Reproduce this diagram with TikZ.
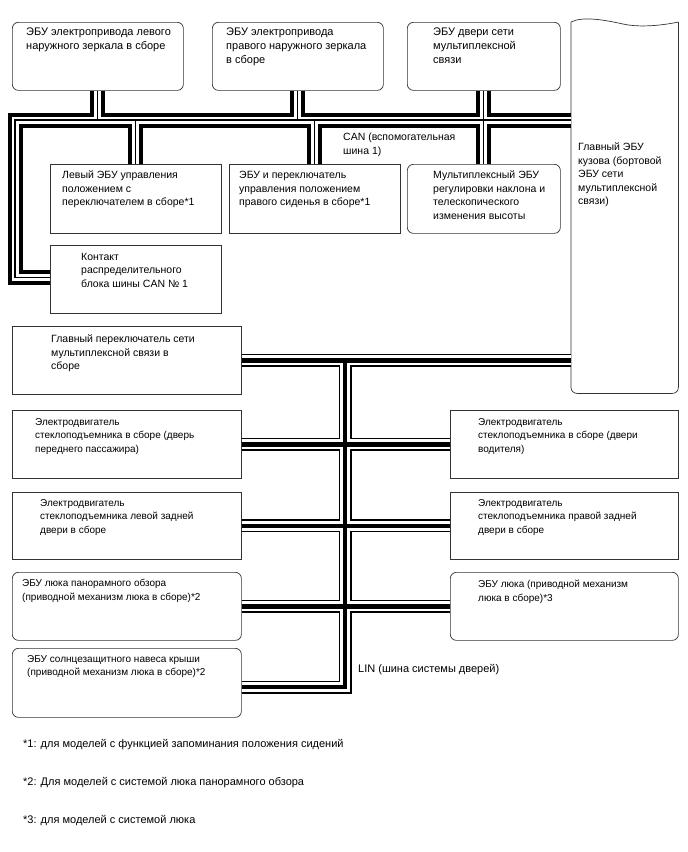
\documentclass[tikz,border=0pt]{standalone}
\usepackage{fontspec}
\setmainfont{Liberation Sans}
\usetikzlibrary{positioning,calc}

\tikzset{
  unit/.style={draw=black!80, line width=0.7pt, anchor=north west, inner sep=0pt},
  roundunit/.style={unit, rounded corners=6pt},
  txt/.style={anchor=north west, align=left, inner sep=0pt,
    font=\fontsize{10.5}{13.5}\selectfont},
  bigtxt/.style={txt, font=\fontsize{11}{14}\selectfont},
  smalltxt/.style={txt, font=\fontsize{10}{13.5}\selectfont}
}

\begin{document}
\begin{tikzpicture}[x=1pt,y=-1pt]
\useasboundingbox (0,0) rectangle (688,852);

% ================= TOP ROW =================
\node[roundunit, minimum width=171pt, minimum height=68pt] (lmirror) at (12,22) {};
\node[bigtxt] (lmirror-t) at (26,28) {ЭБУ электропривода левого\\наружного зеркала в сборе};

\node[roundunit, minimum width=171pt, minimum height=68pt] (rmirror) at (212,22) {};
\node[bigtxt] (rmirror-t) at (226,28) {ЭБУ электропривода\\правого наружного зеркала\\в сборе};

\node[roundunit, minimum width=153pt, minimum height=68pt] (doorecu) at (407,22) {};
\node[bigtxt] (doorecu-t) at (433,28) {ЭБУ двери сети\\мультиплексной\\связи};

% ================= MAIN BODY ECU =================
\node[anchor=north west, inner sep=0pt, minimum width=107pt, minimum height=371pt] (bodyecu) at (571,22) {};
\draw[black!80, line width=0.7pt, rounded corners=6pt]
  (bodyecu.north west) -- (bodyecu.south west) -- (bodyecu.south east) -- (bodyecu.north east);
\draw[black!80, line width=0.7pt]
  (bodyecu.north west) .. controls +(12,-6) and +(-18,-4) .. ($(bodyecu.north west)+(52,2)$)
  .. controls +(18,4) and +(-14,3) .. (bodyecu.north east);
\node[txt] (bodyecu-t) at (578,143) {Главный ЭБУ\\кузова (бортовой\\ЭБУ сети\\мультиплексной\\связи)};

% ================= SECOND ROW =================
\node[unit, minimum width=171pt, minimum height=69pt] (lseat) at (50,164) {};
\node[txt] (lseat-t) at (62,171) {Левый ЭБУ управления\\положением с\\переключателем в сборе*1};

\node[unit, minimum width=171pt, minimum height=69pt] (rseat) at (229,164) {};
\node[txt] (rseat-t) at (239,171) {ЭБУ и переключатель\\управления положением\\правого сиденья в сборе*1};

\node[roundunit, minimum width=153pt, minimum height=69pt] (tiltecu) at (407,164) {};
\node[txt] (tiltecu-t) at (433,171) {Мультиплексный ЭБУ\\регулировки наклона и\\телескопического\\изменения высоты};

\node[unit, minimum width=171pt, minimum height=68pt] (contact) at (50,245) {};
\node[txt] (contact-t) at (81,253) {Контакт\\распределительного\\блока шины CAN № 1};

% ================= CAN BUS =================
\coordinate (canL) at (15,120);
\foreach \lw/\lc in {15pt/black, 7pt/white, 1.2pt/black}
  \draw[line width=\lw, draw=\lc]
    ([yshift=2pt]contact.west) -- ([yshift=2pt]contact.west -| canL) -- (canL) -- (canL -| bodyecu.west)
    (lmirror.south) -- (lmirror.south |- canL)
    (rmirror.south) -- (rmirror.south |- canL)
    (lseat.north) -- (lseat.north |- canL)
    (rseat.north) -- (rseat.north |- canL)
    (doorecu.south) -- (tiltecu.north);
\node[txt] (canlbl) at (343,133) {CAN (вспомогательная\\шина 1)};

% ================= LIN SIDE =================
\node[unit, minimum width=229pt, minimum height=68pt] (mainsw) at (12,326) {};
\node[txt] (mainsw-t) at (51,335) {Главный переключатель сети\\мультиплексной связи в\\сборе};

\node[unit, minimum width=229pt, minimum height=68pt] (winfp) at (12,410) {};
\node[smalltxt] (winfp-t) at (35,418) {Электродвигатель\\стеклоподъемника в сборе (дверь\\переднего пассажира)};

\node[unit, minimum width=228pt, minimum height=68pt] (windr) at (450,410) {};
\node[smalltxt] (windr-t) at (478,418) {Электродвигатель\\стеклоподъемника в сборе (двери\\водителя)};

\node[unit, minimum width=229pt, minimum height=67pt] (winrl) at (12,492) {};
\node[smalltxt] (winrl-t) at (40,499) {Электродвигатель\\стеклоподъемника левой задней\\двери в сборе};

\node[unit, minimum width=228pt, minimum height=67pt] (winrr) at (450,492) {};
\node[smalltxt] (winrr-t) at (478,499) {Электродвигатель\\стеклоподъемника правой задней\\двери в сборе};

\node[roundunit, minimum width=229pt, minimum height=68pt] (panoecu) at (12,572) {};
\node[smalltxt] (panoecu-t) at (22,579) {ЭБУ люка панорамного обзора\\(приводной механизм люка в сборе)*2};

\node[roundunit, minimum width=228pt, minimum height=68pt] (sunroof) at (450,572) {};
\node[smalltxt] (sunroof-t) at (478,580) {ЭБУ люка (приводной механизм\\люка в сборе)*3};

\node[roundunit, minimum width=229pt, minimum height=69pt] (shadeecu) at (12,648) {};
\node[smalltxt] (shadeecu-t) at (27,655) {ЭБУ солнцезащитного навеса крыши\\(приводной механизм люка в сборе)*2};

% ================= LIN BUS =================
\coordinate (linT) at (345,360);
\coordinate (linB) at (345,687);
\foreach \lw/\lc in {13pt/black, 10pt/white, 4.5pt/black}
  \draw[line width=\lw, draw=\lc]
    (mainsw.east) -- (mainsw.east -| bodyecu.west)
    (linT) -- (linB) -- (linB -| shadeecu.east)
    (winfp.east) -- (windr.west)
    (winrl.east) -- (winrr.west)
    (panoecu.east) -- (sunroof.west);
\node[bigtxt] (linlbl) at (358,664) {LIN (шина системы дверей)};

% ================= FOOTNOTES =================
\node[bigtxt] (note1) at (23,739) {*1: для моделей с функцией запоминания положения сидений};
\node[bigtxt] (note2) at (23,777) {*2: Для моделей с системой люка панорамного обзора};
\node[bigtxt] (note3) at (23,815) {*3: для моделей с системой люка};

\end{tikzpicture}
\end{document}
